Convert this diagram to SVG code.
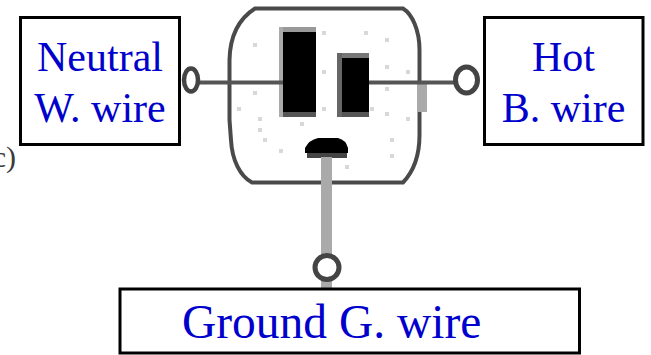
<svg xmlns="http://www.w3.org/2000/svg" width="651" height="355" viewBox="0 0 651 355">
  <style>
    .box { fill: #ffffff; stroke: #000000; stroke-width: 3; }
    .lbl { font-family: "Liberation Serif", "Times New Roman", serif; fill: #0000cc; text-anchor: middle; }
    .wire { stroke: #555555; stroke-width: 4; fill: none; }
    .ring { fill: #ffffff; stroke: #444444; }
    .dot { fill: #d8d8d8; }
  </style>
  <defs>
    <rect id="speck" width="4" height="4" class="dot"/>
  </defs>

  <rect width="651" height="355" fill="#ffffff"/>

  <!-- caption fragment at the left edge -->
  <text x="16" y="167" font-family="Liberation Serif, serif" font-size="30" fill="#3a3a3a" text-anchor="end">(c)</text>

  <!-- receptacle face -->
  <g id="receptacle">
    <path d="M 255 8.5 H 403 C 412 14 419.5 30 419.5 50 V 135 C 419.5 155 413 172 403 182.5 H 252 C 240 176 232 160 231 140 L 229.5 120 V 60 C 230 35 240 18 255 8.5 Z" fill="#ffffff" stroke="#4a4a4a" stroke-width="4"/>
    <!-- speckles -->
    <use href="#speck" x="322" y="31"/>
    <use href="#speck" x="364" y="31"/>
    <use href="#speck" x="385" y="38"/>
    <use href="#speck" x="253" y="43"/>
    <use href="#speck" x="322" y="70"/>
    <use href="#speck" x="385" y="65"/>
    <use href="#speck" x="406" y="70"/>
    <use href="#speck" x="385" y="87"/>
    <use href="#speck" x="253" y="91"/>
    <use href="#speck" x="237" y="107"/>
    <use href="#speck" x="322" y="107"/>
    <use href="#speck" x="370" y="107"/>
    <use href="#speck" x="258" y="117"/>
    <use href="#speck" x="385" y="112"/>
    <use href="#speck" x="406" y="117"/>
    <use href="#speck" x="300" y="122"/>
    <use href="#speck" x="258" y="128"/>
    <use href="#speck" x="263" y="138"/>
    <use href="#speck" x="390" y="138"/>
    <use href="#speck" x="279" y="149"/>
    <use href="#speck" x="390" y="154"/>
    <use href="#speck" x="345" y="165"/>
    <!-- neutral slot -->
    <rect x="279" y="27" width="4" height="90" fill="#aaaaaa"/>
    <rect x="283" y="27" width="33" height="5" fill="#999999"/>
    <rect x="283" y="32" width="33" height="80" fill="#000000"/>
    <rect x="283" y="112" width="33" height="5" fill="#555555"/>
    <!-- hot slot -->
    <rect x="337" y="53" width="5" height="64" fill="#666666"/>
    <rect x="342" y="53" width="27" height="5" fill="#777777"/>
    <rect x="342" y="58" width="27" height="54" fill="#000000"/>
    <rect x="342" y="112" width="27" height="5" fill="#555555"/>
    <!-- ground hole -->
    <path d="M 305 153 V 148 Q 309 140 318 138 H 338 Q 346 140 348 148 V 153 Z" fill="#000000"/>
    <rect x="307" y="153" width="40" height="5" fill="#444444"/>
    <!-- terminal screw -->
    <rect x="417" y="83" width="10" height="29" fill="#aaaaaa"/>
  </g>

  <!-- wires and terminal rings -->
  <g id="connectors">
    <line class="wire" x1="198" y1="82.5" x2="283" y2="82.5"/>
    <line class="wire" x1="369" y1="82.5" x2="455" y2="82.5"/>
    <rect x="321" y="157" width="11" height="131" fill="#aaaaaa"/>
    <ellipse class="ring" cx="191" cy="80" rx="7" ry="11.5" stroke-width="4.5"/>
    <ellipse class="ring" cx="466.5" cy="80" rx="11" ry="13" stroke-width="5"/>
    <ellipse class="ring" cx="327" cy="267.5" rx="12" ry="12" stroke-width="5"/>
  </g>

  <g id="neutral">
    <rect class="box" x="20.5" y="17.5" width="159" height="127"/>
    <text class="lbl" x="100" y="71" font-size="42">Neutral</text>
    <text class="lbl" x="100" y="121.5" font-size="42">W. wire</text>
  </g>

  <g id="hot">
    <rect class="box" x="484.5" y="17.5" width="158.5" height="127"/>
    <text class="lbl" x="563.5" y="71" font-size="42">Hot</text>
    <text class="lbl" x="563.5" y="121.5" font-size="42">B. wire</text>
  </g>

  <g id="ground">
    <rect class="box" x="120" y="289" width="459.5" height="64"/>
    <text class="lbl" x="182" y="338" font-size="47.5" style="text-anchor:start">Ground G. wire</text>
  </g>
</svg>
